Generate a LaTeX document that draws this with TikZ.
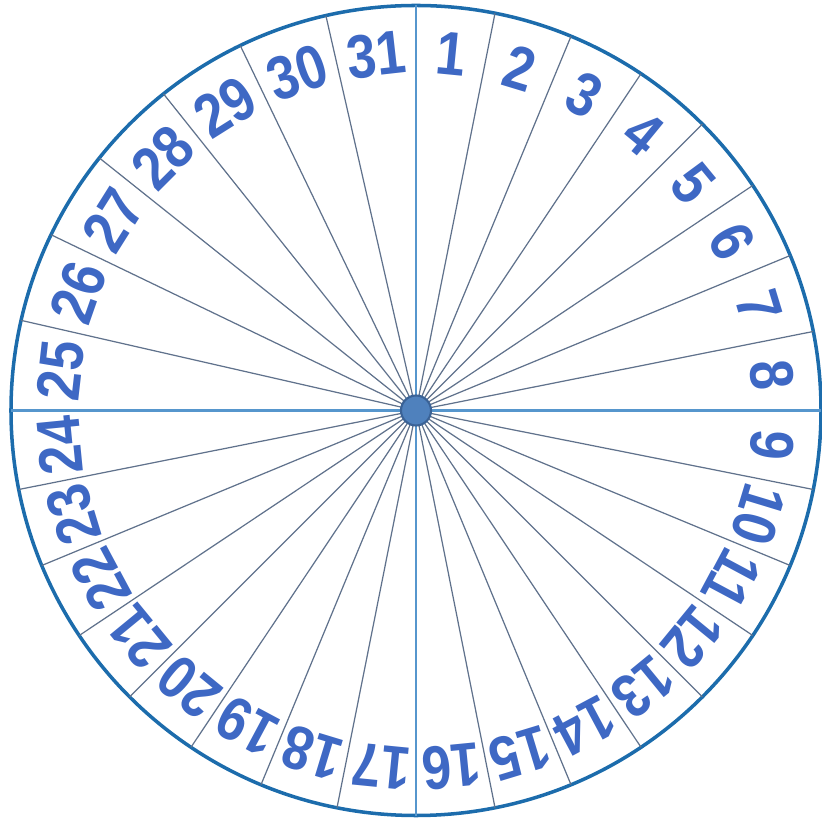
\documentclass[tikz,border=0pt]{standalone}
\usepackage{fontspec}
\newfontfamily\dayfont{Liberation Sans}[FakeStretch=0.86]
\usepackage{xcolor}
\usetikzlibrary{calc}
\definecolor{rimblue}{RGB}{28,108,172}
\definecolor{axisblue}{RGB}{86,150,205}
\definecolor{spokegray}{RGB}{96,114,140}
\definecolor{hubblue}{RGB}{79,129,189}
\definecolor{hubedge}{RGB}{58,98,150}
\definecolor{numblue}{RGB}{62,104,196}

\begin{document}
\begin{tikzpicture}[
  rim/.style={draw=rimblue, line width=1pt},
  axisline/.style={draw=axisblue, line width=0.6pt},
  spoke/.style={draw=spokegray, line width=0.35pt},
  hubdot/.style={circle, fill=hubblue, draw=hubedge, line width=0.6pt,
                 minimum size=3mm, inner sep=0pt},
  daynum/.style={font=\dayfont\bfseries\fontsize{17.5}{17.5}\selectfont,
                 text=numblue, inner sep=0pt},
]
\useasboundingbox (-4.16,-4.105) rectangle (4.05,4.105);

%% ---- rim ------------------------------------------------------------------
\coordinate (o) at (0,0);
\draw[rim] (o) circle (4.05);

%% ---- the two axes ---------------------------------------------------------
\coordinate (rimN) at (90:4.05);
\coordinate (rimS) at (-90:4.05);
\coordinate (rimW) at (180:4.05);
\coordinate (rimE) at (0:4.05);
\draw[axisline] (rimN) -- (rimS);
\draw[axisline] (rimW) -- (rimE);

%% ---- spokes, three quadrants cut in eighths -------------------------------
\foreach \k in {1,2,3,4,5,6,7,9,10,11,12,13,14,15,17,18,19,20,21,22,23} {
  \coordinate (rim\k) at ({90-\k*11.25}:4.05);
  \draw[spoke] (o) -- (rim\k);
}

%% ---- spokes, upper left quadrant cut in sevenths --------------------------
\foreach \j in {1,...,6} {
  \coordinate (rimq\j) at ({180-\j*90/7}:4.05);
  \draw[spoke] (o) -- (rimq\j);
}

%% ---- day numbers ----------------------------------------------------------
\foreach \d in {1,...,24} {
  \pgfmathsetmacro\tw{(\d-0.5)*11.25}
  \node[daynum, rotate=-\tw] (d\d) at ({90-\tw}:3.58) {\d};
}
\foreach \d in {25,...,31} {
  \pgfmathsetmacro\tw{270+(\d-24.5)*90/7}
  \node[daynum, rotate=-\tw] (d\d) at ({90-\tw}:3.58) {\d};
}

%% ---- hub ------------------------------------------------------------------
\node[hubdot] (hub) at (o) {};

\end{tikzpicture}
\end{document}
